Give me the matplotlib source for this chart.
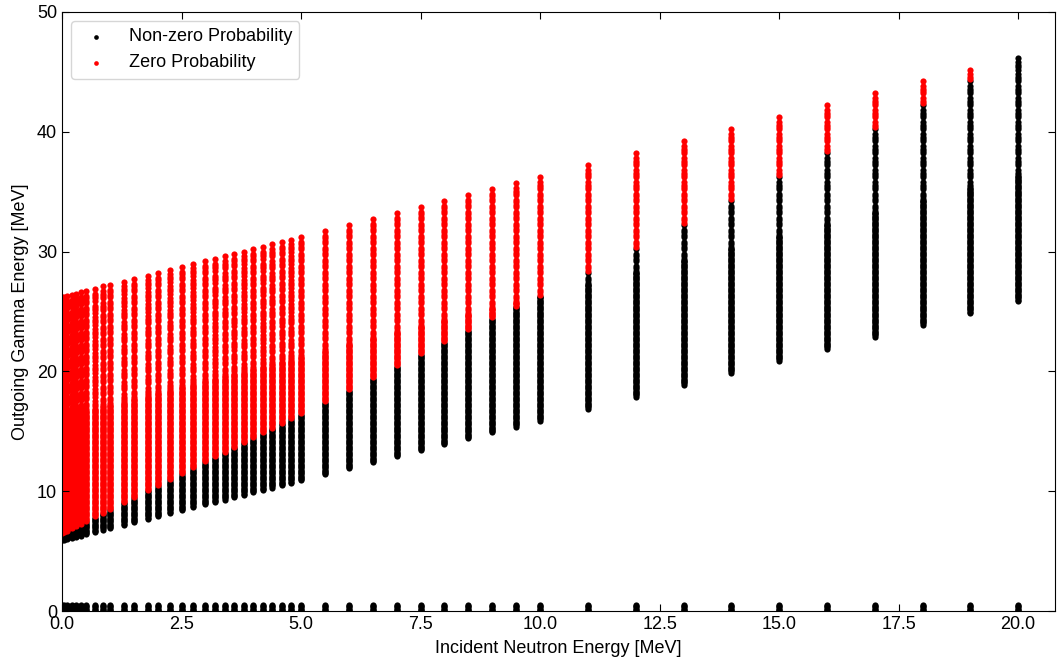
import numpy as np
import matplotlib
matplotlib.use("Agg")
from matplotlib import pyplot as plt

plt.rcParams['font.family'] = ['Liberation Sans', 'DejaVu Sans']
plt.rcParams['font.size'] = 13

# incident neutron energies [MeV] (one column per energy)
incident = [0.0, 0.05, 0.1, 0.2, 0.3, 0.4, 0.5, 0.7, 0.85, 1.0, 1.3, 1.5, 1.8, 2.0,
            2.25, 2.5, 2.75, 3.0, 3.2, 3.4, 3.6, 3.8, 4.0, 4.2, 4.4, 4.6, 4.8, 5.0,
            5.5, 6.0, 6.5, 7.0, 7.5, 8.0, 8.5, 9.0, 9.5, 10.0,
            11.0, 12.0, 13.0, 14.0, 15.0, 16.0, 17.0, 18.0, 19.0, 20.0]
# lowest / highest outgoing gamma energy in each column [MeV]
gamma_lo = [5.9, 5.9, 6.0, 6.1, 6.2, 6.3, 6.4, 6.6, 6.8, 6.9, 7.2, 7.4, 7.7, 7.9,
            8.2, 8.4, 8.7, 8.9, 9.1, 9.3, 9.5, 9.7, 9.9, 10.1, 10.3, 10.5, 10.7, 10.9,
            11.4, 11.9, 12.4, 12.9, 13.4, 13.9, 14.4, 14.9, 15.4, 15.9,
            16.9, 17.9, 18.9, 19.9, 20.9, 21.9, 22.9, 23.9, 24.9, 25.9]
gamma_hi = [26.2, 26.2, 26.3, 26.4, 26.5, 26.6, 26.7, 26.9, 27.1, 27.2, 27.5, 27.7, 28.0, 28.2,
            28.5, 28.7, 29.0, 29.2, 29.4, 29.6, 29.8, 30.0, 30.2, 30.4, 30.6, 30.8, 31.0, 31.2,
            31.7, 32.2, 32.7, 33.2, 33.7, 34.2, 34.7, 35.2, 35.7, 36.2,
            37.2, 38.2, 39.2, 40.2, 41.2, 42.2, 43.2, 44.2, 45.2, 46.2]
# gamma energy above which the probability is zero
gamma_zero = [6.4, 6.5, 6.6, 6.8, 7.0, 7.2, 7.4, 7.8, 8.1, 8.4, 9.0, 9.4, 10.0, 10.4,
              10.9, 11.4, 11.9, 12.4, 12.8, 13.2, 13.6, 14.0, 14.4, 14.8, 15.2, 15.6, 16.0, 16.4,
              17.4, 18.4, 19.4, 20.4, 21.4, 22.4, 23.4, 24.4, 25.4, 26.4,
              28.4, 30.4, 32.4, 34.4, 36.4, 38.4, 40.4, 42.4, 44.4, 46.3]
# low-energy gamma band present at every incident energy
low_band = [0.0, 0.1, 0.2, 0.3, 0.4, 0.5]

xs, ys = [], []
for e, lo, hi in zip(incident, gamma_lo, gamma_hi):
    g = list(np.arange(lo, hi - 10, 0.1))
    for k in np.arange(hi - 10, hi + 0.01, 1.0):
        g += [k, k + 0.2, k + 0.4, k + 0.6]
    g = [v for v in g if v <= hi + 0.01] + low_band
    xs += [e] * len(g)
    ys += g
xs = np.array(xs)
ys = np.array(ys)
thr = np.interp(xs, incident, gamma_zero)
zero = ys > thr

fig = plt.figure(figsize=(10.57, 6.61), dpi=100)
ax = fig.add_axes([62 / 1057, 50 / 661, 993 / 1057, 599 / 661])
ax.scatter(xs[~zero], ys[~zero], s=20, linewidths=0, color='k', label='Non-zero Probability')
ax.scatter(xs[zero], ys[zero], s=20, linewidths=0, color='r', label='Zero Probability')
ax.set_xlim(0, 20.77)
ax.set_ylim(0, 50)
ax.set_xlabel('Incident Neutron Energy [MeV]', labelpad=5)
ax.set_ylabel('Outgoing Gamma Energy [MeV]', labelpad=6)
ax.tick_params(direction='in', top=True, right=True, length=5)
ax.legend(loc='upper left', markerscale=0.75)
fig.savefig('out.png', dpi=100)
